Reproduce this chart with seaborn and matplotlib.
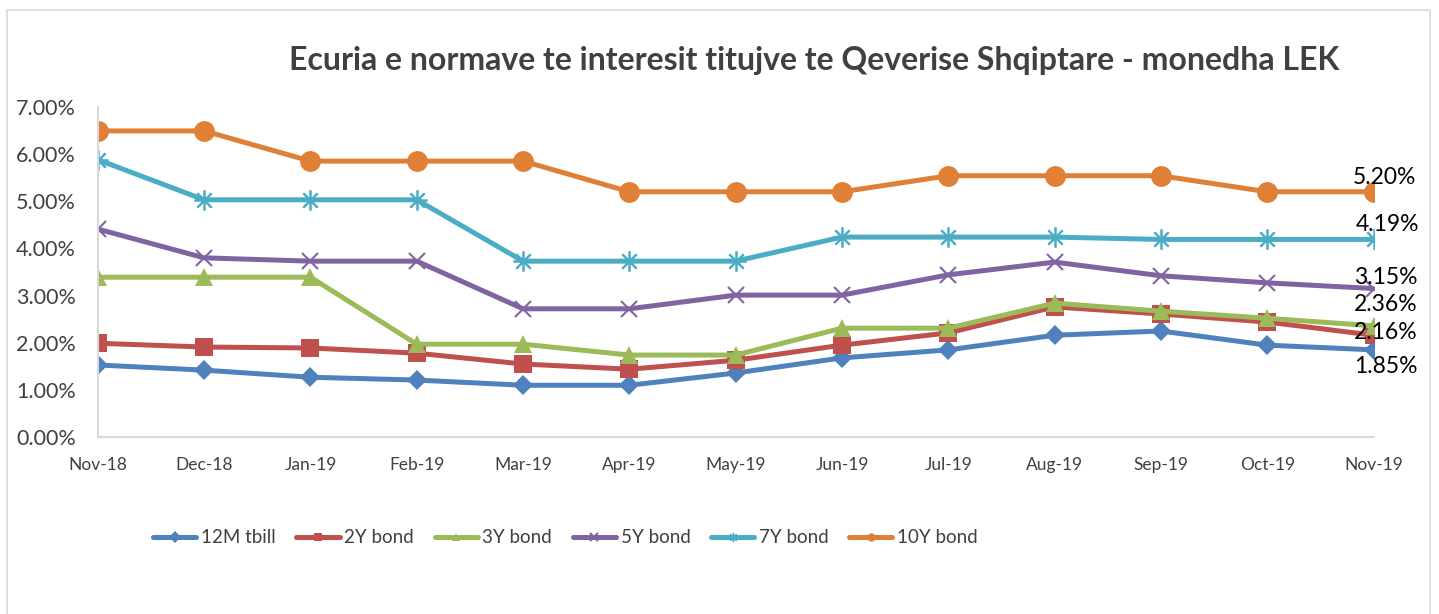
import numpy as np
import pandas as pd
import seaborn as sns
import matplotlib.pyplot as plt
from matplotlib.lines import Line2D
from matplotlib.patches import Rectangle
from matplotlib.ticker import FuncFormatter

months = ['Nov-18', 'Dec-18', 'Jan-19', 'Feb-19', 'Mar-19', 'Apr-19', 'May-19',
          'Jun-19', 'Jul-19', 'Aug-19', 'Sep-19', 'Oct-19', 'Nov-19']

tbill_12m = [1.53, 1.42, 1.27, 1.21, 1.10, 1.10, 1.36, 1.68, 1.85, 2.16, 2.25, 1.95, 1.85]
bond_2y = [1.99, 1.91, 1.89, 1.78, 1.55, 1.44, 1.63, 1.95, 2.21, 2.76, 2.61, 2.44, 2.16]
bond_3y = [3.39, 3.39, 3.39, 1.97, 1.97, 1.74, 1.74, 2.31, 2.31, 2.84, 2.67, 2.52, 2.36]
bond_5y = [4.41, 3.80, 3.73, 3.73, 2.72, 2.72, 3.01, 3.01, 3.44, 3.71, 3.42, 3.27, 3.15]
bond_7y = [5.88, 5.03, 5.03, 5.03, 3.73, 3.73, 3.73, 4.24, 4.24, 4.24, 4.19, 4.19, 4.19]
bond_10y = [6.49, 6.49, 5.85, 5.85, 5.85, 5.20, 5.20, 5.20, 5.54, 5.54, 5.54, 5.20, 5.20]

series = ['12M tbill', '2Y bond', '3Y bond', '5Y bond', '7Y bond', '10Y bond']
values = [tbill_12m, bond_2y, bond_3y, bond_5y, bond_7y, bond_10y]
colors = ['#4F81BD', '#C0504D', '#9BBB59', '#8064A2', '#4BACC6', '#E07F36']
markers = ['D', 's', '^', 'x', '$\u2733$', 'o']
msizes = [10, 13, 13, 12, 14, 15]
# label offsets (points) from the last point of each series
label_offsets = [(9, -12), (9, 2), (9, 15), (9, 8), (10, 11), (8, 10)]

sns.set_style('white')
plt.rcParams['font.family'] = ['Lato', 'DejaVu Sans']

fig = plt.figure(figsize=(14.39, 6.14), dpi=100)
ax = fig.add_axes([0.068, 0.288, 0.8865, 0.538])

# outer frame like the excel chart area
fig.patches.append(Rectangle((0.005, -0.02), 0.989, 1.003, transform=fig.transFigure,
                             fill=False, edgecolor='#D9D9D9', lw=1.2))

x = np.arange(len(months))
handles = []
for name, vals, c, m, ms, off in zip(series, values, colors, markers, msizes, label_offsets):
    mew = 1.5 if m == 'x' else (0.8 if m.startswith('$') else 0)
    sns.lineplot(x=x, y=vals, ax=ax, color=c, lw=3.6, marker=m, markersize=ms,
                 markeredgecolor=c, markeredgewidth=mew, legend=False)
    ax.annotate(f'{vals[-1]:.2f}%', (x[-1], vals[-1]), xytext=off, textcoords='offset points',
                ha='center', va='center', fontsize=16.5, color='black')
    handles.append(Line2D([], [], color=c, lw=3.6, marker=m, markersize=6,
                          markeredgecolor=c, markeredgewidth=mew))

ax.set_xlim(0, 12)
ax.set_ylim(0, 7)
ax.set_xticks(x)
ax.set_xticklabels(months, fontsize=12.5, color='#404040')
ax.set_yticks(np.arange(0, 8, 1))
ax.yaxis.set_major_formatter(FuncFormatter(lambda v, p: f'{v:.2f}%'))
ax.tick_params(axis='y', labelsize=15.5, colors='#404040', length=0, pad=16)
ax.tick_params(axis='x', length=0, pad=14)
for s in ['top', 'right']:
    ax.spines[s].set_visible(False)
for s in ['left', 'bottom']:
    ax.spines[s].set_color('#D9D9D9')
    ax.spines[s].set_linewidth(1.5)

fig.text(0.566, 0.902, 'Ecuria e normave te interesit titujve te Qeverise Shqiptare - monedha LEK',
         ha='center', va='center', fontsize=23, fontweight='bold', color='#404040')

fig.legend(handles, series, loc='center', bbox_to_anchor=(0.393, 0.124), ncol=6,
           frameon=False, fontsize=13.5, handlelength=2.3, handletextpad=0.25, columnspacing=1.1,
           labelcolor='#404040')

fig.savefig('out.png', dpi=100)
